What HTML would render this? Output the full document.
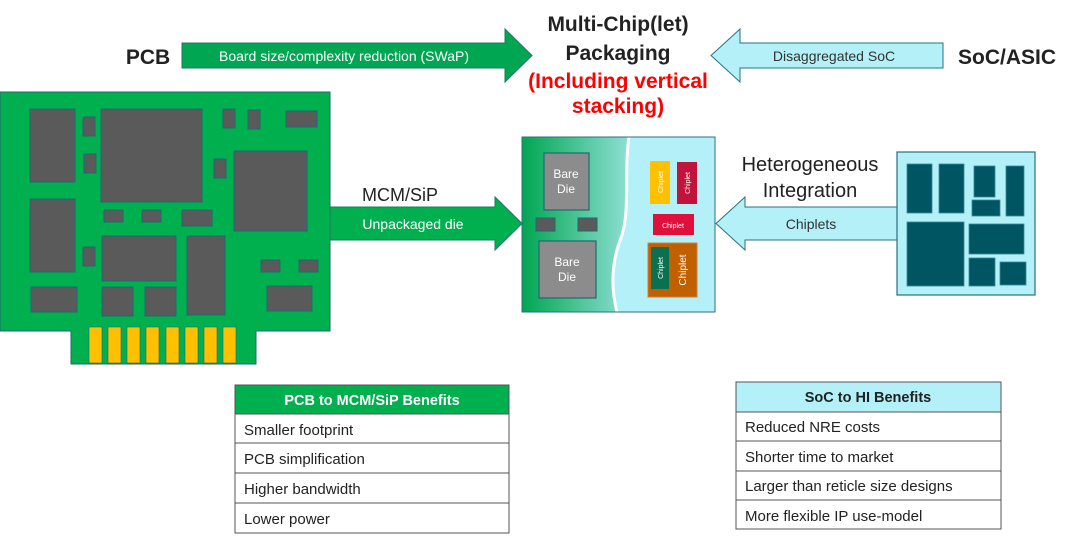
<!DOCTYPE html>
<html><head><meta charset="utf-8"><style>
html,body{margin:0;padding:0;background:#fff;}
svg{display:block;font-family:"Liberation Sans",Arial,sans-serif;}
</style></head><body>
<svg width="1080" height="539" viewBox="0 0 1080 539" xmlns="http://www.w3.org/2000/svg">
<defs>
<linearGradient id="g1" x1="0" x2="1" y1="0" y2="0">
<stop offset="0" stop-color="#00a651"/><stop offset="1" stop-color="#8fe0d4"/>
</linearGradient>
</defs>
<rect width="1080" height="539" fill="#fff"/>

<!-- Title -->
<g font-weight="bold" font-size="21" text-anchor="middle">
<text x="618" y="31" fill="#222">Multi-Chip(let)</text>
<text x="618" y="60" fill="#222">Packaging</text>
<text x="618" y="88" fill="#ff0000">(Including vertical</text>
<text x="618" y="113" fill="#ff0000">stacking)</text>
<text x="148" y="64" fill="#222">PCB</text>
<text x="1007" y="64" fill="#222">SoC/ASIC</text>
</g>

<!-- top arrows -->
<path d="M182,43 H505 V29 L532,55.5 L505,82 V68 H182 Z" fill="#00a651" stroke="#1e7a60" stroke-width="1"/>
<text x="344" y="61" font-size="14" fill="#fff" text-anchor="middle">Board size/complexity reduction (SWaP)</text>
<path d="M943,43 H740 V29 L711,55.5 L740,82 V68 H943 Z" fill="#b3f0f8" stroke="#2a7080" stroke-width="1"/>
<text x="834" y="61" font-size="14" fill="#333" text-anchor="middle">Disaggregated SoC</text>

<!-- PCB -->
<path d="M0,92 H330 V331 H256 V364 H71 V331 H0 Z" fill="#00b04f" stroke="#1e6a70" stroke-width="1"/>
<g fill="#5a5a5a" stroke="#1e6a70" stroke-width="1">
<rect x="30" y="109" width="45" height="73"/>
<rect x="83" y="117" width="12" height="19"/>
<rect x="101" y="109" width="101" height="93"/>
<rect x="223" y="109" width="12" height="19"/>
<rect x="248" y="110" width="12" height="19"/>
<rect x="286" y="111" width="31" height="16"/>
<rect x="84" y="154" width="12" height="19"/>
<rect x="214" y="159" width="12" height="19"/>
<rect x="234" y="151" width="73" height="80"/>
<rect x="30" y="199" width="45" height="73"/>
<rect x="104" y="210" width="19" height="12"/>
<rect x="142" y="210" width="19" height="12"/>
<rect x="182" y="210" width="30" height="16"/>
<rect x="102" y="236" width="74" height="45"/>
<rect x="187" y="236" width="38" height="79"/>
<rect x="83" y="247" width="12" height="19"/>
<rect x="261" y="260" width="19" height="12"/>
<rect x="299" y="260" width="19" height="12"/>
<rect x="31" y="287" width="46" height="25"/>
<rect x="102" y="287" width="31" height="29"/>
<rect x="145" y="287" width="31" height="29"/>
<rect x="267" y="286" width="45" height="25"/>
</g>
<g fill="#ffc000" stroke="#1e6a70" stroke-width="0.6">
<rect x="89" y="327" width="13" height="36"/><rect x="108" y="327" width="13" height="36"/>
<rect x="127" y="327" width="13" height="36"/><rect x="146" y="327" width="13" height="36"/>
<rect x="166" y="327" width="13" height="36"/><rect x="185" y="327" width="13" height="36"/>
<rect x="204" y="327" width="13" height="36"/><rect x="223" y="327" width="13" height="36"/>
</g>

<!-- MCM arrow -->
<path d="M330,207 H495 V197 L522,223.5 L495,250 V240 H330 Z" fill="#00b04f" stroke="#1e7a60" stroke-width="1"/>
<text x="400" y="201" font-size="18" fill="#222" text-anchor="middle">MCM/SiP</text>
<text x="413" y="229" font-size="14" fill="#fff" text-anchor="middle">Unpackaged die</text>

<!-- Package -->
<rect x="522" y="137" width="193" height="175" fill="#b3f0f8" stroke="#2a7080" stroke-width="1"/>
<path d="M522,137 H629 C624,170 630,210 622,235 C612,260 610,285 617,312 H522 Z" fill="url(#g1)"/>
<path d="M629,137 C624,170 630,210 622,235 C612,260 610,285 617,312" fill="none" stroke="#fff" stroke-width="3"/>
<rect x="522" y="137" width="193" height="175" fill="none" stroke="#2a7080" stroke-width="1"/>
<g fill="#8c8c8c" stroke="#1e6a70" stroke-width="1.2">
<rect x="544" y="153" width="45" height="57"/>
<rect x="539" y="241" width="57" height="57"/>
</g>
<rect x="536" y="218" width="19" height="13" fill="#5a5a5a" stroke="#1e6a70"/>
<rect x="578" y="218" width="19" height="13" fill="#5a5a5a" stroke="#1e6a70"/>
<g font-size="12" fill="#fff" text-anchor="middle">
<text x="566" y="178">Bare</text><text x="566" y="193">Die</text>
<text x="567" y="266">Bare</text><text x="567" y="281">Die</text>
</g>
<rect x="650" y="161" width="20" height="43" fill="#ffc000"/>
<rect x="677" y="162" width="20" height="42" fill="#c0143c"/>
<rect x="653" y="214" width="41" height="21" fill="#e0103c"/>
<rect x="648" y="243" width="49" height="54" fill="#c06000" stroke="#d08040"/>
<rect x="651" y="247" width="18" height="42" fill="#0a7050"/>
<g fill="#fff" font-size="7">
<text transform="translate(663,182) rotate(-90)" text-anchor="middle">Chiplet</text>
<text transform="translate(690,183) rotate(-90)" text-anchor="middle">Chiplet</text>
<text x="673" y="228" text-anchor="middle">Chiplet</text>
<text transform="translate(663,268) rotate(-90)" text-anchor="middle">Chiplet</text>
<text transform="translate(686,270) rotate(-90)" text-anchor="middle" font-size="10">Chiplet</text>
</g>

<!-- Chiplets arrow -->
<path d="M897,207 H745 V197 L716,223.5 L745,250 V240 H897 Z" fill="#b3f0f8" stroke="#2a7080" stroke-width="1"/>
<text x="810" y="171" font-size="20" fill="#222" text-anchor="middle">Heterogeneous</text>
<text x="810" y="197" font-size="20" fill="#222" text-anchor="middle">Integration</text>
<text x="811" y="229" font-size="14" fill="#333" text-anchor="middle">Chiplets</text>

<!-- SoC -->
<rect x="897" y="152" width="138" height="143" fill="#b3f0f8" stroke="#2a7080" stroke-width="1.2"/>
<g fill="#005563" stroke="#3a8a95" stroke-width="0.8">
<rect x="907" y="164" width="25" height="49"/>
<rect x="939" y="164" width="25" height="49"/>
<rect x="974" y="166" width="21" height="31"/>
<rect x="972" y="200" width="28" height="16"/>
<rect x="1006" y="166" width="18" height="50"/>
<rect x="907" y="222" width="57" height="64"/>
<rect x="969" y="224" width="55" height="30"/>
<rect x="969" y="258" width="26" height="28"/>
<rect x="1000" y="262" width="26" height="23"/>
</g>

<!-- Left table -->
<rect x="235" y="385" width="274" height="29" fill="#00b04f"/>
<g fill="none" stroke="#555" stroke-width="1">
<rect x="235" y="385" width="274" height="148"/>
<line x1="235" y1="414" x2="509" y2="414"/><line x1="235" y1="443" x2="509" y2="443"/>
<line x1="235" y1="473" x2="509" y2="473"/><line x1="235" y1="503" x2="509" y2="503"/>
</g>
<text x="372" y="405" font-size="14.5" font-weight="bold" fill="#fff" text-anchor="middle">PCB to MCM/SiP Benefits</text>
<g font-size="15" fill="#222">
<text x="244" y="435">Smaller footprint</text>
<text x="244" y="464">PCB simplification</text>
<text x="244" y="494">Higher bandwidth</text>
<text x="244" y="524">Lower power</text>
</g>

<!-- Right table -->
<rect x="736" y="382" width="265" height="30" fill="#b3f0f8"/>
<g fill="none" stroke="#555" stroke-width="1">
<rect x="736" y="382" width="265" height="147"/>
<line x1="736" y1="412" x2="1001" y2="412"/><line x1="736" y1="441" x2="1001" y2="441"/>
<line x1="736" y1="471" x2="1001" y2="471"/><line x1="736" y1="500" x2="1001" y2="500"/>
</g>
<text x="868" y="402" font-size="14.5" font-weight="bold" fill="#222" text-anchor="middle">SoC to HI Benefits</text>
<g font-size="15" fill="#222">
<text x="745" y="432">Reduced NRE costs</text>
<text x="745" y="462">Shorter time to market</text>
<text x="745" y="491">Larger than reticle size designs</text>
<text x="745" y="521">More flexible IP use-model</text>
</g>
</svg>
</body></html>
